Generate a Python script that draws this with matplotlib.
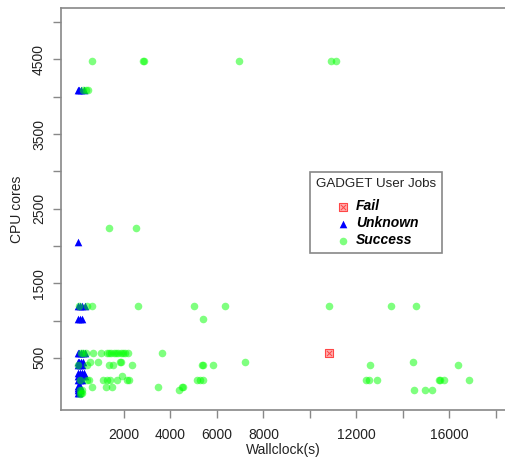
import matplotlib
matplotlib.use("Agg")
import matplotlib.pyplot as plt

plt.rcParams['font.family'] = ['Liberation Sans', 'DejaVu Sans']

# DATA

fail_x = [10830]
fail_y = [560]

unknown_x = [0, 80, 160, 280,
             20,
             0, 100, 200, 330,
             20, 100, 180,
             0, 80, 160, 240, 320,
             0, 80, 160, 250,
             0, 100, 200,
             0, 100, 200, 300,
             0, 80, 160, 240, 320,
             0, 100, 200,
             0, 60, 120,
             0, 60, 120,
             0, 60, 120,
             0, 60]
unknown_y = [4096, 4096, 4096, 4096,
             2048,
             1200, 1200, 1200, 1200,
             1024, 1024, 1024,
             560, 560, 560, 560, 560,
             448, 448, 448, 448,
             400, 400, 400,
             300, 300, 300, 300,
             256, 256, 256, 256, 256,
             200, 200, 200,
             128, 128, 128,
             96, 96, 96,
             64, 64, 64,
             32, 32]

success_x = [620, 2800, 2850, 6930, 10900, 11100,
             250, 350, 450,
             1340, 2530,
             80, 400, 610, 2610, 5010, 6360, 10830, 13500, 14550,
             5410,
             150, 250, 350, 680, 1000, 1260, 1350, 1450, 1550, 1650, 1750, 1850, 1950, 2050, 2180, 3620,
             540, 870, 1830, 1850, 7200, 14420,
             40, 400, 1370, 1540, 2330, 5360, 5400, 5810, 12580, 16350,
             1900,
             100, 400, 480, 1100, 1250, 1380, 1690, 2150, 2200, 5150, 5250, 5380,
             12410, 12520, 12880, 15530, 15600, 15780, 16830,
             610, 1210, 1500, 3450, 4480, 4530,
             4370, 14460, 14960, 15230,
             100, 200, 150, 180, 100]
success_y = [4480, 4480, 4480, 4480, 4480, 4480,
             4096, 4096, 4096,
             2240, 2240,
             1200, 1200, 1200, 1200, 1200, 1200, 1200, 1200, 1200,
             1024,
             560, 560, 560, 560, 560, 560, 560, 560, 560, 560, 560, 560, 560, 560, 560, 560,
             448, 448, 448, 448, 448, 448,
             400, 400, 400, 400, 400, 400, 400, 400, 400, 400,
             256,
             200, 200, 200, 200, 200, 200, 200, 200, 200, 200, 200, 200,
             200, 200, 200, 200, 200, 200, 200,
             110, 110, 110, 110, 110, 110,
             67, 63, 63, 63,
             64, 64, 32, 32, 16]

xticks = [2000, 4000, 6000, 8000, 10000, 12000, 14000, 16000, 18000]
xticklabels = ['2000', '4000', '6000', '8000', '', '12000', '', '16000', '']
yticks = [500, 1000, 1500, 2000, 2500, 3000, 3500, 4000, 4500, 5000]
yticklabels = ['500', '', '1500', '', '2500', '', '3500', '', '4500', '']

# PLOT

fig = plt.figure(figsize=(5.05, 4.61), dpi=100)
ax = fig.add_axes([61/505, 51/461, 444/505, 402/461])

ax.scatter(unknown_x, unknown_y, marker='^', s=30, color='#0000ff', linewidths=0, zorder=2, label='Unknown')
ax.scatter(success_x, success_y, marker='o', s=30, color='#00ff00', alpha=0.5, linewidths=0, zorder=3, label='Success')
sq = ax.scatter(fail_x, fail_y, marker='s', s=32, facecolor='#ff9999', edgecolor='#ff2222',
                linewidths=0.8, alpha=0.8, zorder=4)
cr = ax.scatter(fail_x, fail_y, marker='x', s=14, color='#ff0000', linewidths=0.7, alpha=0.6, zorder=5)

ax.set_xlim(-710, 18390)
ax.set_ylim(-200, 5190)

ax.set_xticks(xticks)
ax.set_xticklabels(xticklabels)
ax.set_yticks(yticks)
ax.set_yticklabels(yticklabels, rotation=90, va='center')

gray = '#888888'
for side in ['left', 'bottom', 'top']:
    ax.spines[side].set_color(gray)
    ax.spines[side].set_linewidth(1.2)
ax.spines['right'].set_visible(False)

ax.tick_params(direction='out', length=5.8, width=1.0, color=gray, labelsize=10, labelcolor='#222222')
ax.tick_params(axis='x', pad=7)
ax.tick_params(axis='y', pad=5)

ax.set_xlabel("Wallclock(s)", fontsize=10, color='#222222')
ax.set_ylabel("CPU cores", fontsize=10, color='#222222')
ax.xaxis.set_label_coords(0.5, -0.0995)
ax.xaxis.label.set_va('center')
ax.yaxis.set_label_coords(-44/444, 0.5)
ax.yaxis.label.set_va('center')

handles, labels = ax.get_legend_handles_labels()
leg = ax.legend([(sq, cr), handles[0], handles[1]], ['Fail', 'Unknown', 'Success'],
                title='GADGET User Jobs', loc='upper left',
                bbox_to_anchor=(310/505, 289.3/461), bbox_transform=fig.transFigure,
                borderaxespad=0, frameon=True, fancybox=False, framealpha=1,
                edgecolor=gray, scatterpoints=1, handlelength=1.4, handletextpad=0.25,
                borderpad=0.42, labelspacing=0.22,
                prop={'weight': 'bold', 'style': 'italic', 'size': 10},
                title_fontproperties={'size': 9.6})
leg._legend_box.sep = 7
leg.get_frame().set_linewidth(1.2)
leg.get_title().set_color('#222222')

fig.savefig("out.png", dpi=100)
